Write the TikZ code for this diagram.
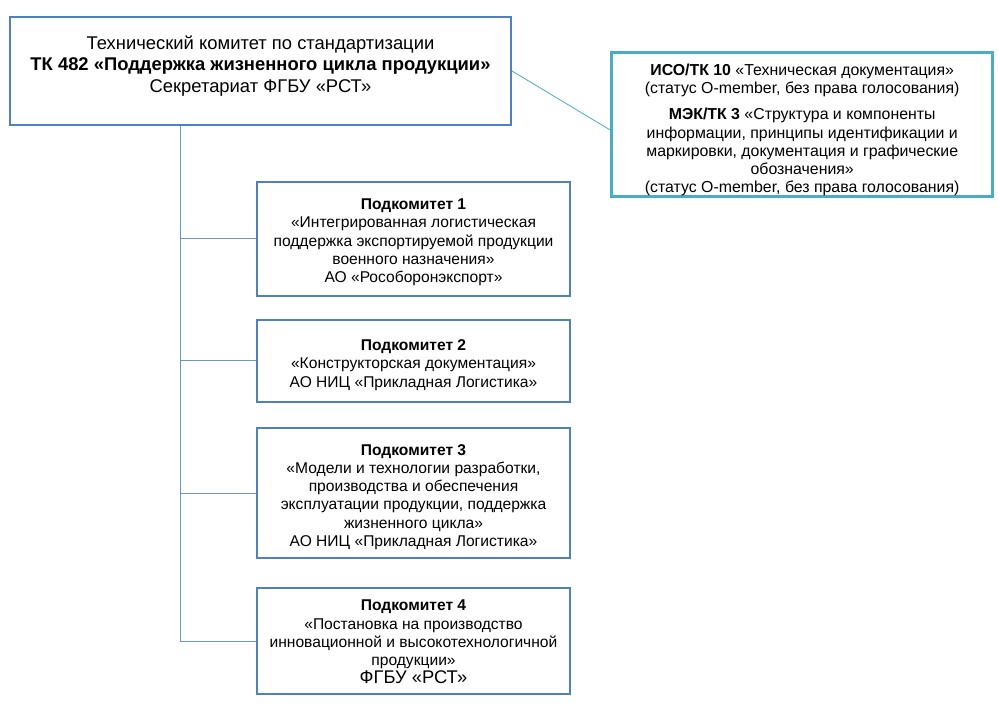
\documentclass[tikz,border=0pt]{standalone}
\usepackage{fontspec}
\setmainfont{Liberation Sans}
\usetikzlibrary{calc}
\definecolor{boxblue}{HTML}{4F81BD}
\definecolor{lineblue}{HTML}{6A95D0}
\definecolor{isoteal}{HTML}{4BACC6}
\begin{document}
\begin{tikzpicture}[x=0.75pt,y=-0.75pt,
  box/.style={draw=boxblue, line width=1.5pt, rectangle, inner sep=0pt},
  isobox/.style={draw=isoteal, line width=2.25pt, rectangle, inner sep=0pt},
  isotext/.style={align=center, inner sep=0pt, font=\fontsize{11.9pt}{13.6pt}\selectfont},
  scbox/.style={box, minimum width={313*0.75pt}},
  sctext/.style={align=center, inner sep=0pt, font=\fontsize{11.7pt}{13.7pt}\selectfont},
  conn/.style={draw=lineblue, line width=0.75pt},
  isoconn/.style={draw=isoteal, line width=0.6pt},
  toptext/.style={align=center, inner sep=0pt, font=\fontsize{13.8pt}{16.1pt}\selectfont}]
\useasboundingbox[fill=white] (0,0) rectangle (998,705);

% top committee
\node[box, minimum width={501*0.75pt}, minimum height={108*0.75pt}] (tk) at (260.5,71) {};
\node[toptext] (tktext) at (260.5,66) {Технический комитет по стандартизации\\
  \textbf{ТК 482 «Поддержка жизненного цикла продукции»}\\
  Секретариат ФГБУ «РСТ»};

% international
\node[isobox, minimum width={381*0.75pt}, minimum height={144*0.75pt}] (iso) at (802.2,125) {};
\node[isotext] (isotxt) at (802.2,130)
  {\textbf{ИСО/ТК 10} «Техническая документация»\\
   (статус O-member, без права голосования)\\[6pt]
   \textbf{МЭК/ТК 3} «Структура и компоненты\\
   информации, принципы идентификации и\\
   маркировки, документация и графические\\
   обозначения»\\
   (статус O-member, без права голосования)};

% subcommittees
\node[scbox, minimum height={114*0.75pt}] (sc1) at (413.5,239) {};
\node[sctext] (sc1txt) at (413.5,242.5)
  {\textbf{Подкомитет 1}\\
   «Интегрированная логистическая\\
   поддержка экспортируемой продукции\\
   военного назначения»\\
   АО «Рособоронэкспорт»};
\node[scbox, minimum height={82*0.75pt}] (sc2) at (413.5,361) {};
\node[sctext] (sc2txt) at (413.5,365)
  {\textbf{Подкомитет 2}\\
   «Конструкторская документация»\\
   АО НИЦ «Прикладная Логистика»};
\node[scbox, minimum height={130*0.75pt}] (sc3) at (413.5,493) {};
\node[sctext] (sc3txt) at (413.5,497)
  {\textbf{Подкомитет 3}\\
   «Модели и технологии разработки,\\
   производства и обеспечения\\
   эксплуатации продукции, поддержка\\
   жизненного цикла»\\
   АО НИЦ «Прикладная Логистика»};
\node[scbox, minimum height={106*0.75pt}] (sc4) at (413.5,641) {};
\node[sctext] (sc4txt) at (413.5,642)
  {\textbf{Подкомитет 4}\\
   «Постановка на производство\\
   инновационной и высокотехнологичной\\
   продукции»\\
   {\fontsize{13.75pt}{16.5pt}\selectfont ФГБУ «РСТ»}};

% connectors
\coordinate (trunk) at ($(tk.south west)+(171,0)$);
\draw[conn] (trunk) |- (sc4.west);
\draw[conn] (sc1.west) -- (sc1.west -| trunk);
\draw[conn] (sc2.west) -- (sc2.west -| trunk);
\draw[conn] (sc3.west) -- (sc3.west -| trunk);
\draw[isoconn] (tk.east) -- ($(iso.west)+(0,5)$);
\end{tikzpicture}
\end{document}
